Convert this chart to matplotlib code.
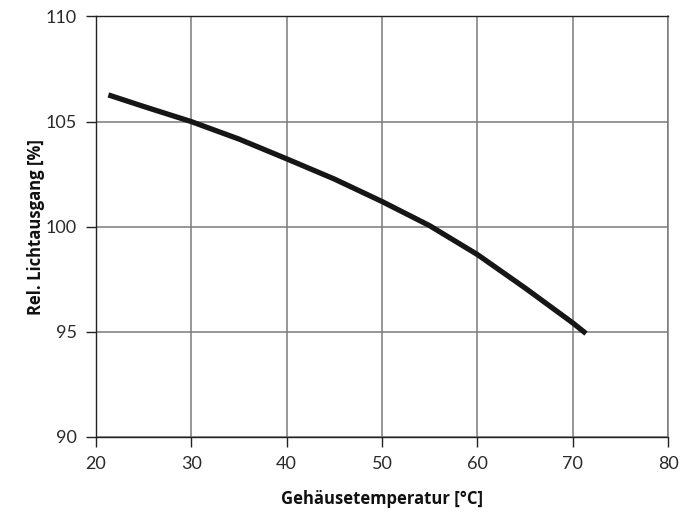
import numpy as np
import matplotlib.pyplot as plt

# Relativer Lichtausgang über Gehäusetemperatur
temp = [21.3, 25, 30, 35, 40, 45, 50, 55, 60, 65, 70, 71.4]
licht = [106.27, 105.72, 105.0, 104.17, 103.23, 102.27, 101.2, 100.05, 98.68, 97.09, 95.43, 94.92]

x_ticks = [20, 30, 40, 50, 60, 70, 80]
y_ticks = [90, 95, 100, 105, 110]

fig = plt.figure(figsize=(6.97, 5.12), dpi=100)
ax = fig.add_axes([0.1377, 0.1465, 0.8207, 0.8213])

ax.plot(temp, licht, color='#161616', linewidth=3.8, solid_capstyle='butt', zorder=3)

ax.set_xlim(20, 80)
ax.set_ylim(90, 110)
ax.set_xticks(x_ticks)
ax.set_yticks(y_ticks)
ax.grid(True, color='#7a7a7a', linewidth=1.1)

for side in ['left', 'bottom', 'top']:
    ax.spines[side].set_color('#222222')
    ax.spines[side].set_linewidth(1.0)
ax.spines['right'].set_color('#7a7a7a')
ax.spines['right'].set_linewidth(1.1)

ax.tick_params(direction='out', length=7, width=1.0, color='#222222',
               labelsize=13, labelcolor='#2a2a2a', pad=7)
for lab in ax.get_xticklabels() + ax.get_yticklabels():
    lab.set_family('Lato')
    lab.set_fontweight('normal')

ax.set_xlabel('Gehäusetemperatur [°C]', fontsize=12, fontweight='bold',
              family='Open Sans', labelpad=13, color='#111111')
ax.set_ylabel('Rel. Lichtausgang [%]', fontsize=12, fontweight='bold',
              family='Open Sans', labelpad=0, color='#111111')

plt.savefig('out.png', dpi=100)
